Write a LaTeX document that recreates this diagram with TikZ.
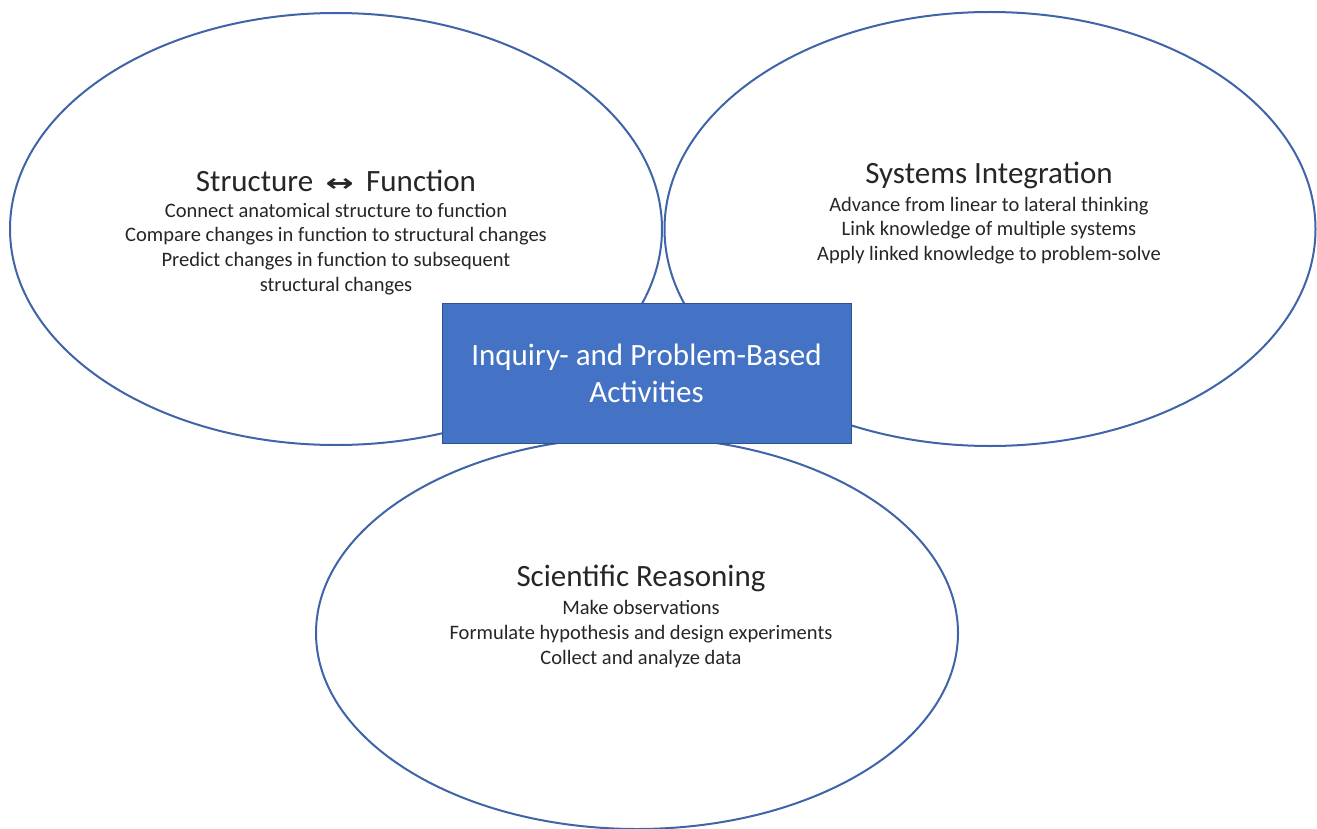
\documentclass[tikz,border=0pt]{standalone}
\usepackage{fontspec}
\setmainfont{Carlito}
\newfontfamily\symfont{DejaVu Sans}
\usetikzlibrary{shapes.geometric}
\definecolor{ringblue}{HTML}{3F64A8}
\definecolor{boxfill}{HTML}{4472C4}
\definecolor{boxedge}{HTML}{2F528F}
\definecolor{txt}{HTML}{262626}
\tikzset{
  ring/.style={ellipse, draw=ringblue, line width=2pt, inner sep=0pt},
  headline/.style={text=txt, font=\fontsize{31}{36}\selectfont},
  detail/.style={text=txt, align=center, font=\fontsize{20.5}{24.8}\selectfont},
  core/.style={rectangle, fill=boxfill, draw=boxedge, line width=1pt,
    minimum width=409pt, minimum height=140pt, text=white, align=center,
    font=\fontsize{31}{37}\selectfont}
}
\begin{document}
\begin{tikzpicture}[x=1pt,y=-1pt]
\useasboundingbox (0,0) rectangle (1317,829);
\fill[white] (0,0) rectangle (1317,829);
% three overlapping ovals
\node[ring, minimum width=652pt, minimum height=432pt] (left) at (336,229) {};
\node[ring, minimum width=651pt, minimum height=434pt] (right) at (990,229) {};
\node[ring, minimum width=642pt, minimum height=392pt] (bottom) at (637,633) {};
% left oval text
\node[headline] (lefthead) at (336,181) {Structure\hspace{0.4em}{\symfont\bfseries\fontsize{24}{24}\selectfont\scalebox{1.4}[1]{↔}}\hspace{0.4em}Function};
\node[detail] (leftbody) at (336,249) {Connect anatomical structure to function\\
  Compare changes in function to structural changes\\
  Predict changes in function to subsequent\\
  structural changes};
% right oval text
\node[headline] (righthead) at (989,175) {Systems Integration};
\node[detail] (rightbody) at (989,230.5) {Advance from linear to lateral thinking\\
  Link knowledge of multiple systems\\
  Apply linked knowledge to problem-solve};
% bottom oval text
\node[headline] (bottomhead) at (641,578) {Scientific Reasoning};
\node[detail] (bottombody) at (641,634) {Make observations\\
  Formulate hypothesis and design experiments\\
  Collect and analyze data};
% central box
\node[core] (centre) at (646.5,373) {Inquiry- and Problem-Based\\Activities};
\end{tikzpicture}
\end{document}
